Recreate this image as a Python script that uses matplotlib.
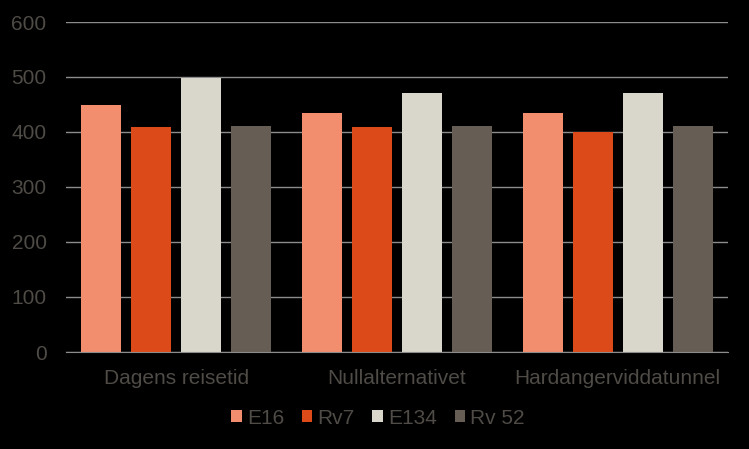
import matplotlib
matplotlib.use("Agg")
import matplotlib.pyplot as plt
import numpy as np

categories = ["Dagens reisetid", "Nullalternativet", "Hardangerviddatunnel"]
series_names = ["E16", "Rv7", "E134", "Rv 52"]
e16 = [449, 435, 435]
rv7 = [409, 409, 400]
e134 = [499, 471, 471]
rv52 = [411, 411, 411]
yticks = [0, 100, 200, 300, 400, 500, 600]

colors = ["#F28E6E", "#DD4A1A", "#D9D7CB", "#665D54"]
text_color = "#4F4B46"

plt.rcParams['font.family'] = ['Liberation Sans', 'DejaVu Sans']

fig = plt.figure(figsize=(7.49, 4.49), dpi=100, facecolor="black")
ax = fig.add_axes([66/749, 1 - 352/449, (728-66)/749, (352-22)/449])
ax.set_facecolor("black")

x = np.arange(len(categories))
step = 50/220.7
width = 40/220.7
data = [e16, rv7, e134, rv52]
for i, (name, vals) in enumerate(zip(series_names, data)):
    ax.bar(x + (i - 1.5) * step, vals, width=width, color=colors[i], label=name, zorder=3)

ax.set_xlim(-0.5, len(categories) - 0.5)
ax.set_ylim(0, 600)
ax.set_yticks(yticks)
ax.yaxis.grid(True, color="#8C8C8C", linewidth=1, zorder=0)
ax.set_xticks(x)
ax.set_xticklabels(categories)
ax.tick_params(axis='both', length=0, labelsize=15, colors=text_color)
ax.tick_params(axis='y', pad=14)
ax.tick_params(axis='x', pad=12)
for s in ["top", "right", "left"]:
    ax.spines[s].set_visible(False)
ax.spines["bottom"].set_color("#8C8C8C")
ax.spines["bottom"].set_zorder(4)

leg = fig.legend(loc="center", bbox_to_anchor=(378/749, 1 - 418/449), ncol=4,
                 frameon=False, fontsize=15, handlelength=0.5, handleheight=0.5,
                 handletextpad=0.25, columnspacing=0.85)
for t in leg.get_texts():
    t.set_color(text_color)

fig.savefig("out.png", dpi=100, facecolor="black")
